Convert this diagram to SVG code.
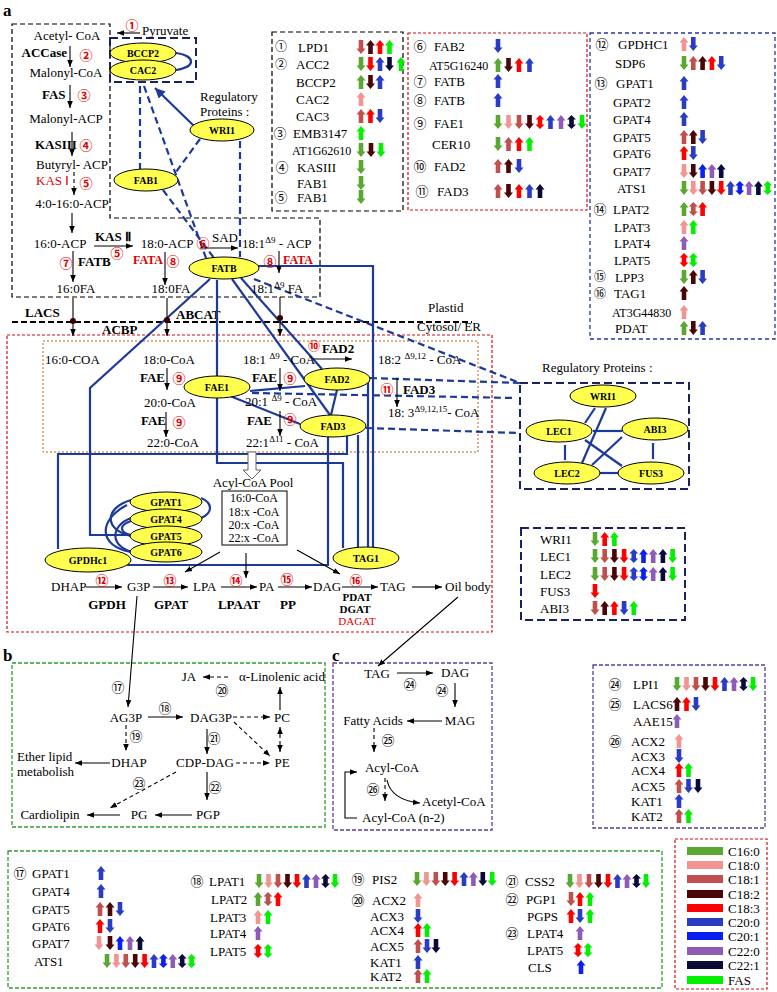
<svg xmlns="http://www.w3.org/2000/svg" xmlns:xlink="http://www.w3.org/1999/xlink" width="777" height="992" viewBox="0 0 777 992">
<style>
.t{font-family:"Liberation Serif","Times New Roman",serif;font-size:13px;fill:#000}
.s{font-size:12px}
.xs{font-size:11px}
.b{font-weight:bold}
.m{text-anchor:middle}
.e{text-anchor:end}
.r{fill:#e00000}
.n{font-family:"Noto Sans CJK SC","DejaVu Sans",sans-serif;font-size:13px;text-anchor:middle;fill:#000}
.ns{font-size:12px}
.nr{fill:#e00000;font-weight:bold}
.pl{font-family:"Liberation Serif","Times New Roman",serif;font-size:17px;font-weight:bold}
.el{fill:#ffff4d;stroke:#000;stroke-width:1}
.et{font-family:"Liberation Serif","Times New Roman",serif;font-size:10px;font-weight:bold;text-anchor:middle}
.bl{stroke:#1b3a9a;stroke-width:2.2;fill:none}
.bd{stroke:#1b3a9a;stroke-width:2.2;fill:none;stroke-dasharray:7 4}
.ar{stroke:#000;stroke-width:1.1;fill:none;marker-end:url(#ah)}
.ad{stroke:#000;stroke-width:1.1;fill:none;marker-end:url(#ah);stroke-dasharray:4 3}
.bxk{fill:none;stroke:#000;stroke-width:1.2;stroke-dasharray:5 3}
.bxr{fill:none;stroke:#d01010;stroke-width:1.2;stroke-dasharray:3 2}
.bxo{fill:none;stroke:#c06010;stroke-width:1;stroke-dasharray:2 2}
.bxb{fill:none;stroke:#2a35a8;stroke-width:1.3;stroke-dasharray:4 3}
.bxn{fill:none;stroke:#1a2060;stroke-width:2;stroke-dasharray:8 4}
.bxg{fill:none;stroke:#2f9a2f;stroke-width:1.3;stroke-dasharray:4 2}
.bxp{fill:none;stroke:#5a3d99;stroke-width:1.3;stroke-dasharray:4 2}
.a1{fill:#5aa831}.a2{fill:#f19592}.a3{fill:#c0504d}.a4{fill:#4a0606}.a5{fill:#ff0000}
.a6{fill:#2a3cc4}.a7{fill:#0b20f0}.a8{fill:#8e5cb5}.a9{fill:#0a0a38}.a10{fill:#00f000}
</style>
<defs>
<marker id="ah" viewBox="0 0 10 10" refX="10" refY="5" markerWidth="7" markerHeight="7" markerUnits="userSpaceOnUse" orient="auto-start-reverse"><path d="M0,1 L10,5 L0,9 z" fill="#000"/></marker>
<marker id="ahb" viewBox="0 0 10 10" refX="10" refY="5" markerWidth="10" markerHeight="10" markerUnits="userSpaceOnUse" orient="auto"><path d="M0,0 L10,5 L0,10 z" fill="#1b3a9a"/></marker>
<path id="u" d="M0,-7 L4.5,-1.5 L2.3,-1.5 L2.3,7 L-2.3,7 L-2.3,-1.5 L-4.5,-1.5 Z"/>
<path id="d" d="M0,7 L4.5,1.5 L2.3,1.5 L2.3,-7 L-2.3,-7 L-2.3,1.5 L-4.5,1.5 Z"/>
<path id="w" d="M0,-7 L4.5,-2.5 L2.3,-2.5 L2.3,2.5 L4.5,2.5 L0,7 L-4.5,2.5 L-2.3,2.5 L-2.3,-2.5 L-4.5,-2.5 Z"/>
</defs>
<rect width="777" height="992" fill="#fff"/>

<!-- panel labels -->
<text class="pl" x="3" y="16">a</text>
<text class="pl" x="3" y="661">b</text>
<text class="pl" x="332" y="661">c</text>

<!-- compartment boxes -->
<g id="compartments">
<path class="bxk" d="M12,24 L110,24 L110,218 L320,218 L320,297 L12,297 Z"/>
<rect class="bxn" x="110" y="38" width="86" height="44"/>
<line x1="12" y1="322" x2="472" y2="322" stroke="#000" stroke-width="2" stroke-dasharray="6 3"/>
<rect class="bxr" x="7" y="335" width="485" height="297"/>
<rect class="bxo" x="43" y="341" width="435" height="111"/>
<rect class="bxn" x="520" y="383" width="169" height="106"/>
<rect class="bxg" x="12" y="663" width="313" height="164"/>
<rect class="bxp" x="333" y="663" width="159" height="167"/>
<text class="t" x="428" y="312">Plastid</text>
<text class="t" x="417" y="331">Cytosol/ ER</text>
<text class="t b" x="25" y="317">LACS</text>
<text class="t b" x="176" y="319">ABCAT</text>
<text class="t b" x="102" y="334">ACBP</text>
<text class="t" x="200" y="101">Regulatory</text>
<text class="t" x="200" y="116">Proteins :</text>
<text class="t" x="542" y="372">Regulatory Proteins :</text>
</g>

<!-- connectors -->
<g id="connectors">
<line class="bl" x1="194" y1="126" x2="155" y2="88" marker-end="url(#ahb)"/>
<line class="bd" x1="140" y1="86" x2="140" y2="169"/>
<line class="bd" x1="144" y1="86" x2="206" y2="258"/>
<line class="bd" x1="200" y1="139" x2="176" y2="172"/>
<line class="bd" x1="163" y1="190" x2="214" y2="258"/>
<line class="bd" x1="240" y1="141" x2="240" y2="257"/>
<line class="bd" x1="254" y1="279" x2="520" y2="383"/>
<line class="bd" x1="370" y1="378" x2="520" y2="383"/>
<line class="bd" x1="252" y1="393" x2="515" y2="398"/>
<line class="bd" x1="366" y1="428" x2="519" y2="433"/>
<polyline class="bl" points="210,279 90,388 90,535 131,535"/>
<line class="bl" x1="217" y1="280" x2="217" y2="376"/>
<polyline class="bl" points="217,398 217,463 343,463 343,548"/>
<line class="bl" x1="232" y1="279" x2="330" y2="415"/>
<line class="bl" x1="241" y1="278" x2="322" y2="369"/>
<polyline class="bl" points="258,266 373,266 373,548"/>
<line class="bl" x1="250" y1="391" x2="305" y2="386"/>
<line class="bl" x1="230" y1="396" x2="300" y2="424"/>
<line class="bl" x1="337" y1="390" x2="331" y2="415"/>
<line class="bl" x1="368" y1="380" x2="368" y2="548"/>
<line class="bl" x1="358" y1="435" x2="358" y2="548"/>
<polyline class="bl" points="347,436 347,454 58,454 58,549"/>
<polyline class="bl" points="328,437 328,565 128,565 128,557"/>
<path class="bl" d="M176,53 C196,56 196,67 176,70"/>
<path class="bl" d="M131,500 C104,508 104,530 131,536"/>
<path class="bl" d="M127,505 C98,520 98,546 131,552"/>
<path class="bl" d="M131,518 C110,526 110,546 132,552"/>
<path class="bl" d="M131,521 C119,525 119,532 131,535"/>
<path class="bl" d="M201,498 C213,503 213,513 201,518"/>
<line class="bl" x1="595" y1="408" x2="585" y2="423"/>
<line class="bl" x1="606" y1="408" x2="582" y2="463"/>
<line class="bl" x1="593" y1="431" x2="622" y2="431"/>
<line class="bl" x1="565" y1="445" x2="565" y2="460"/>
<line class="bl" x1="585" y1="440" x2="622" y2="466"/>
<line class="bl" x1="622" y1="437" x2="592" y2="465"/>
<line class="bl" x1="653" y1="443" x2="653" y2="459"/>
<line class="bl" x1="600" y1="473" x2="618" y2="473"/>
<line class="ar" x1="73" y1="298" x2="73" y2="336"/>
<line class="ar" x1="167" y1="298" x2="167" y2="336"/>
<line class="ar" x1="280" y1="297" x2="280" y2="336"/>
<circle cx="73" cy="321" r="3" fill="#3a0000"/>
<circle cx="167" cy="320" r="3" fill="#3a0000"/>
<circle cx="280" cy="318" r="3" fill="#3a0000"/>
<line class="ar" x1="140" y1="33" x2="117" y2="33"/>
<line class="ar" x1="70" y1="46" x2="70" y2="67"/>
<line class="ar" x1="70" y1="85" x2="70" y2="108"/>
<line class="ar" x1="72" y1="132" x2="72" y2="156"/>
<line class="ad" x1="74" y1="172" x2="74" y2="195"/>
<line class="ar" x1="72" y1="213" x2="72" y2="233"/>
<line class="ar" x1="94" y1="246" x2="133" y2="246"/>
<line class="ar" x1="200" y1="248" x2="238" y2="248"/>
<line class="ar" x1="73" y1="251" x2="73" y2="282"/>
<line class="ar" x1="165" y1="252" x2="165" y2="285"/>
<line class="ar" x1="279" y1="251" x2="279" y2="273"/>
<line class="ar" x1="167" y1="368" x2="167" y2="390"/>
<line class="ar" x1="166" y1="412" x2="166" y2="437"/>
<line class="ar" x1="280" y1="368" x2="280" y2="391"/>
<line class="ar" x1="280" y1="411" x2="280" y2="436"/>
<line class="ar" x1="313" y1="359" x2="352" y2="359"/>
<line class="ar" x1="397" y1="378" x2="397" y2="407"/>
<path d="M248,452 L256,452 L256,470 L261,470 L252,479 L243,470 L248,470 Z" fill="#fff" stroke="#666" stroke-width="1"/>
<line class="ar" x1="220" y1="552" x2="185" y2="572"/>
<line class="ar" x1="246" y1="553" x2="246" y2="578"/>
<line class="ar" x1="297" y1="550" x2="340" y2="574"/>
<line class="ar" x1="86" y1="587" x2="122" y2="587"/>
<line class="ar" x1="153" y1="587" x2="188" y2="587"/>
<line class="ar" x1="221" y1="587" x2="257" y2="587"/>
<line class="ar" x1="278" y1="587" x2="312" y2="587"/>
<line class="ar" x1="342" y1="587" x2="378" y2="587"/>
<line class="ar" x1="412" y1="587" x2="442" y2="587"/>
<line class="ar" x1="137" y1="596" x2="128" y2="707"/>
<line class="ar" x1="148" y1="717" x2="183" y2="717"/>
<line class="ad" x1="233" y1="717" x2="270" y2="717"/>
<line class="ar" x1="280" y1="710" x2="280" y2="687"/>
<line class="ad" x1="228" y1="677" x2="203" y2="677"/>
<line class="ad" x1="280" y1="727" x2="280" y2="752" marker-start="url(#ah)"/>
<line class="ad" x1="126" y1="725" x2="126" y2="751"/>
<line class="ar" x1="110" y1="763" x2="75" y2="763"/>
<line class="ar" x1="207" y1="729" x2="207" y2="754"/>
<line class="ad" x1="234" y1="722" x2="270" y2="756"/>
<line class="ad" x1="236" y1="763" x2="270" y2="763"/>
<line class="ad" x1="176" y1="772" x2="110" y2="808"/>
<line class="ar" x1="207" y1="772" x2="207" y2="800"/>
<line class="ar" x1="192" y1="815" x2="155" y2="815"/>
<line class="ar" x1="120" y1="815" x2="87" y2="815"/>
<line class="ar" x1="458" y1="597" x2="378" y2="666"/>
<line class="ar" x1="397" y1="673" x2="433" y2="673"/>
<line class="ar" x1="455" y1="683" x2="455" y2="707"/>
<line class="ar" x1="442" y1="721" x2="407" y2="721"/>
<line class="ad" x1="374" y1="728" x2="374" y2="752"/>
<line class="ad" x1="385" y1="778" x2="385" y2="801"/>
<path class="ar" d="M387,780 Q391,800 420,803"/>
<polyline class="ar" points="357,818 345,818 345,772 357,772"/>
</g>

<!-- nodes: ellipses -->
<g id="BCCP2"><ellipse class="el" cx="143" cy="53" rx="33" ry="10"/><text class="et" x="143" y="56.5">BCCP2</text></g>
<g id="CAC2"><ellipse class="el" cx="143" cy="70" rx="33" ry="10"/><text class="et" x="143" y="73.5">CAC2</text></g>
<g id="WRI1-a"><ellipse class="el" cx="222" cy="130" rx="32" ry="11"/><text class="et" x="222" y="133.5">WRI1</text></g>
<g id="FAB1"><ellipse class="el" cx="146" cy="180" rx="32" ry="11"/><text class="et" x="146" y="183.5">FAB1</text></g>
<g id="FATB"><ellipse class="el" cx="224" cy="268" rx="35" ry="11"/><text class="et" x="224" y="271.5">FATB</text></g>
<g id="FAE1"><ellipse class="el" cx="217" cy="387" rx="33" ry="11"/><text class="et" x="217" y="390.5">FAE1</text></g>
<g id="FAD2"><ellipse class="el" cx="337" cy="379" rx="33" ry="11"/><text class="et" x="337" y="382.5">FAD2</text></g>
<g id="FAD3"><ellipse class="el" cx="333" cy="426" rx="33" ry="11"/><text class="et" x="333" y="429.5">FAD3</text></g>
<g id="GPAT1"><ellipse class="el" cx="166" cy="502" rx="36" ry="10"/><text class="et" x="166" y="505.5">GPAT1</text></g>
<g id="GPAT4"><ellipse class="el" cx="166" cy="519" rx="36" ry="10"/><text class="et" x="166" y="522.5">GPAT4</text></g>
<g id="GPAT5"><ellipse class="el" cx="166" cy="536" rx="36" ry="10"/><text class="et" x="166" y="539.5">GPAT5</text></g>
<g id="GPAT6"><ellipse class="el" cx="166" cy="552" rx="36" ry="10"/><text class="et" x="166" y="555.5">GPAT6</text></g>
<g id="GPDHc1"><ellipse class="el" cx="88" cy="560" rx="43" ry="12"/><text class="et" x="88" y="563.5">GPDHc1</text></g>
<g id="TAG1"><ellipse class="el" cx="366" cy="558" rx="33" ry="11"/><text class="et" x="366" y="561.5">TAG1</text></g>
<g id="WRI1"><ellipse class="el" cx="603" cy="396" rx="33" ry="11"/><text class="et" x="603" y="399.5">WRI1</text></g>
<g id="LEC1"><ellipse class="el" cx="559" cy="431" rx="33" ry="11"/><text class="et" x="559" y="434.5">LEC1</text></g>
<g id="ABI3"><ellipse class="el" cx="655" cy="429" rx="33" ry="11"/><text class="et" x="655" y="432.5">ABI3</text></g>
<g id="LEC2"><ellipse class="el" cx="567" cy="473" rx="33" ry="11"/><text class="et" x="567" y="476.5">LEC2</text></g>
<g id="FUS3"><ellipse class="el" cx="651" cy="473" rx="33" ry="11"/><text class="et" x="651" y="476.5">FUS3</text></g>

<!-- plastid metabolites -->
<g id="plastid-text">
<text class="t" x="142" y="35">Pyruvate</text>
<text class="t m" x="67" y="40">Acetyl- CoA</text>
<text class="t m" x="66" y="77">Malonyl-CoA</text>
<text class="t m" x="66" y="123">Malonyl-ACP</text>
<text class="t m" x="72" y="169">Butyryl- ACP</text>
<text class="t m" x="72" y="208">4:0-16:0-ACP</text>
<text class="t m" x="60" y="248">16:0-ACP</text>
<text class="t m" x="167" y="248">18:0-ACP</text>
<text class="t" x="242" y="248">18:1<tspan font-size="9" dy="-5">Δ9</tspan><tspan dy="5"> - ACP</tspan></text>
<text class="t m" x="76" y="293">16:0FA</text>
<text class="t m" x="171" y="293">18:0FA</text>
<text class="t" x="251" y="293">18:1<tspan font-size="9" dy="-5">Δ9</tspan><tspan dy="5"> FA</tspan></text>
<text class="t b e" x="67" y="57">ACCase</text>
<text class="t b" x="42" y="99">FAS</text>
<text class="t b" x="35" y="149">KASIII</text>
<text class="t r" x="36" y="185">KAS Ⅰ</text>
<text class="t b" x="95" y="241">KAS Ⅱ</text>
<text class="t b" x="78" y="266">FATB</text>
<text class="t b r s" x="133" y="264">FATA</text>
<text class="t" x="212" y="242">SAD</text>
<text class="t b r s" x="283" y="264">FATA</text>
<text class="n nr" x="132" y="30">①</text>
<text class="n nr" x="86" y="60">②</text>
<text class="n nr" x="84" y="100">③</text>
<text class="n nr" x="86" y="150">④</text>
<text class="n nr" x="86" y="188">⑤</text>
<text class="n nr" x="117" y="258">⑤</text>
<text class="n nr" x="66" y="268">⑦</text>
<text class="n nr" x="173" y="266">⑧</text>
<text class="n nr" x="203" y="248">⑥</text>
<text class="n nr" x="270" y="266">⑧</text>
</g>

<!-- ER metabolites -->
<g id="er-text">
<text class="t" x="45" y="364">16:0-COA</text>
<text class="t" x="143" y="364">18:0-CoA</text>
<text class="t b" x="140" y="382">FAE</text>
<text class="t" x="144" y="407">20:0-CoA</text>
<text class="t b" x="141" y="425">FAE</text>
<text class="t" x="147" y="447">22:0-CoA</text>
<text class="t" x="243" y="364">18:1 <tspan font-size="9" dy="-5">Δ9</tspan><tspan dy="5"> - CoA</tspan></text>
<text class="t b" x="252" y="382">FAE</text>
<text class="t" x="245" y="406">20:1 <tspan font-size="9" dy="-5">Δ9</tspan><tspan dy="5"> - CoA</tspan></text>
<text class="t b" x="247" y="425">FAE</text>
<text class="t" x="246" y="447">22:1<tspan font-size="9" dy="-5">Δ11</tspan><tspan dy="5"> - CoA</tspan></text>
<text class="t b" x="322" y="353">FAD2</text>
<text class="t" x="378" y="364">18:2 <tspan font-size="9" dy="-5">Δ9,12</tspan><tspan dy="5"> - CoA</tspan></text>
<text class="t b" x="403" y="394">FAD3</text>
<text class="t" x="388" y="417">18: 3<tspan font-size="9" dy="-5">Δ9,12,15</tspan><tspan dy="5">- CoA</tspan></text>
<text class="n nr" x="179" y="383">⑨</text>
<text class="n nr" x="179" y="427">⑨</text>
<text class="n nr" x="290" y="383">⑨</text>
<text class="n nr" x="290" y="424">⑨</text>
<text class="n nr ns" x="314" y="351">⑩</text>
<text class="n nr" x="387" y="394">⑪</text>
<text class="t m" x="253" y="487">Acyl-CoA Pool</text>
<rect x="222" y="491" width="65" height="54" fill="none" stroke="#000" stroke-width="1"/>
<text class="t m s" x="254" y="502">16:0-CoA</text>
<text class="t m s" x="254" y="516">18:x -CoA</text>
<text class="t m s" x="254" y="529">20:x -CoA</text>
<text class="t m s" x="254" y="542">22:x -CoA</text>
<text class="t" x="51" y="591">DHAP</text>
<text class="t" x="127" y="591">G3P</text>
<text class="t" x="193" y="591">LPA</text>
<text class="t" x="259" y="591">PA</text>
<text class="t" x="313" y="591">DAG</text>
<text class="t" x="380" y="591">TAG</text>
<text class="t" x="445" y="591">Oil body</text>
<text class="n nr" x="102" y="585">⑫</text>
<text class="n nr" x="170" y="585">⑬</text>
<text class="n nr" x="236" y="585">⑭</text>
<text class="n nr" x="287" y="584">⑮</text>
<text class="n nr" x="356" y="585">⑯</text>
<text class="t b m" x="107" y="609">GPDH</text>
<text class="t b m" x="171" y="609">GPAT</text>
<text class="t b m" x="239" y="609">LPAAT</text>
<text class="t b m" x="288" y="609">PP</text>
<text class="t b m xs" x="357" y="601">PDAT</text>
<text class="t b m xs" x="355" y="613">DGAT</text>
<text class="t r m xs" x="357" y="625">DAGAT</text>
</g>

<!-- panel b -->
<g id="panel-b">
<text class="n" x="118" y="692">⑰</text>
<text class="t m" x="126" y="722">AG3P</text>
<text class="n" x="165" y="713">⑱</text>
<text class="t m" x="211" y="722">DAG3P</text>
<text class="t m" x="282" y="722">PC</text>
<text class="t m" x="282" y="681">α-Linolenic acid</text>
<text class="t m" x="189" y="681">JA</text>
<text class="n" x="222" y="695">⑳</text>
<text class="n" x="136" y="741">⑲</text>
<text class="t m" x="129" y="767">DHAP</text>
<text class="t" x="17" y="761">Ether lipid</text>
<text class="t" x="17" y="776">metabolish</text>
<text class="n" x="214" y="743">㉑</text>
<text class="t m" x="205" y="767">CDP-DAG</text>
<text class="t m" x="282" y="767">PE</text>
<text class="n" x="139" y="788">㉓</text>
<text class="n" x="215" y="792">㉒</text>
<text class="t m" x="208" y="819">PGP</text>
<text class="t m" x="139" y="819">PG</text>
<text class="t m" x="50" y="819">Cardiolipin</text>
</g>

<!-- panel c -->
<g id="panel-c">
<text class="t m" x="377" y="678">TAG</text>
<text class="n" x="410" y="689">㉔</text>
<text class="t m" x="455" y="677">DAG</text>
<text class="n" x="442" y="695">㉔</text>
<text class="t m" x="460" y="725">MAG</text>
<text class="t m" x="373" y="725">Fatty Acids</text>
<text class="n" x="388" y="745">㉕</text>
<text class="t m" x="392" y="772">Acyl-CoA</text>
<text class="n" x="373" y="794">㉖</text>
<text class="t" x="422" y="806">Acetyl-CoA</text>
<text class="t" x="362" y="822">Acyl-CoA (n-2)</text>
</g>

<!-- table 1 -->
<g id="table-1">
<rect class="bxk" x="272" y="32" width="131" height="179"/>
<text class="n ns" x="281" y="51">①</text><text class="t" x="298" y="51.5">LPD1</text>
<text class="n ns" x="281" y="69">②</text><text class="t" x="296" y="68.5">ACC2</text>
<text class="t" x="296" y="86.5">BCCP2</text>
<text class="t" x="296" y="103.5">CAC2</text>
<text class="t" x="296" y="120.5">CAC3</text>
<text class="n" x="280" y="138">③</text><text class="t" x="293" y="137.5">EMB3147</text>
<text class="t s" x="292" y="154.5">AT1G62610</text>
<text class="n" x="282" y="172">④</text><text class="t" x="297" y="171.5">KASIII</text>
<text class="t" x="297" y="187.5">FAB1</text>
<text class="n" x="281" y="202">⑤</text><text class="t" x="297" y="201.5">FAB1</text>
<use href="#d" x="361" y="47" class="a3"/><use href="#u" x="370.5" y="47" class="a4"/><use href="#u" x="380" y="47" class="a5"/><use href="#u" x="389.5" y="47" class="a10"/>
<use href="#d" x="361" y="64" class="a1"/><use href="#d" x="370.5" y="64" class="a5"/><use href="#u" x="380" y="64" class="a6"/><use href="#d" x="389.5" y="64" class="a9"/><use href="#u" x="401" y="64" class="a10"/>
<use href="#u" x="361" y="82" class="a1"/><use href="#d" x="370.5" y="82" class="a4"/><use href="#u" x="380" y="82" class="a6"/>
<use href="#u" x="361" y="99" class="a2"/>
<use href="#u" x="361" y="116" class="a3"/><use href="#u" x="370.5" y="116" class="a5"/><use href="#d" x="380" y="116" class="a6"/>
<use href="#u" x="361" y="133" class="a10"/>
<use href="#d" x="361" y="150" class="a1"/><use href="#d" x="371" y="150" class="a4"/><use href="#d" x="381" y="150" class="a10"/>
<use href="#d" x="361" y="167" class="a1"/>
<use href="#d" x="361" y="183" class="a1"/>
<use href="#d" x="361" y="197" class="a1"/>
</g>

<!-- table 2 -->
<g id="table-2">
<rect class="bxr" x="408" y="33" width="179" height="177"/>
<text class="n" x="420" y="51">⑥</text><text class="t" x="434" y="50.5">FAB2</text>
<text class="t s" x="429" y="69.5">AT5G16240</text>
<text class="n" x="420" y="86">⑦</text><text class="t" x="434" y="85.5">FATB</text>
<text class="n" x="420" y="105">⑧</text><text class="t" x="434" y="104.5">FATB</text>
<text class="n" x="420" y="128">⑨</text><text class="t" x="434" y="127.5">FAE1</text>
<text class="t" x="432" y="148.5">CER10</text>
<text class="n" x="420" y="171">⑩</text><text class="t" x="434" y="170.5">FAD2</text>
<text class="n" x="422" y="196">⑪</text><text class="t" x="437" y="195.5">FAD3</text>
<use href="#d" x="498" y="46" class="a6"/>
<use href="#u" x="498" y="65" class="a1"/><use href="#d" x="508.5" y="65" class="a4"/><use href="#u" x="519" y="65" class="a5"/><use href="#u" x="529.5" y="65" class="a6"/>
<use href="#u" x="498" y="81" class="a6"/>
<use href="#u" x="498" y="100" class="a6"/>
<use href="#d" x="498" y="122" class="a1"/><use href="#d" x="508.5" y="122" class="a2"/><use href="#d" x="519" y="122" class="a3"/><use href="#d" x="529.5" y="122" class="a4"/><use href="#w" x="540" y="122" class="a5"/><use href="#u" x="550.5" y="122" class="a6"/><use href="#u" x="561" y="122" class="a8"/><use href="#w" x="571.5" y="122" class="a9"/><use href="#d" x="582" y="122" class="a10"/>
<use href="#d" x="498" y="144" class="a1"/><use href="#u" x="508.5" y="144" class="a3"/><use href="#u" x="519" y="144" class="a5"/><use href="#u" x="529.5" y="144" class="a10"/>
<use href="#u" x="498" y="166" class="a3"/><use href="#u" x="508.5" y="166" class="a4"/><use href="#d" x="519" y="166" class="a6"/>
<use href="#u" x="498" y="191" class="a3"/><use href="#d" x="508.5" y="191" class="a4"/><use href="#u" x="519" y="191" class="a5"/><use href="#u" x="529.5" y="191" class="a6"/><use href="#u" x="540" y="191" class="a9"/>
</g>

<!-- table 3 -->
<g id="table-3">
<rect class="bxb" x="590" y="33" width="185" height="306"/>
<text class="n" x="602" y="49">⑫</text><text class="t" x="618" y="48.5">GPDHC1</text>
<text class="t" x="615" y="67.5">SDP6</text>
<text class="n" x="601" y="88">⑬</text><text class="t" x="616" y="87.5">GPAT1</text>
<text class="t" x="613" y="106.5">GPAT2</text>
<text class="t" x="613" y="123.5">GPAT4</text>
<text class="t" x="613" y="141.5">GPAT5</text>
<text class="t" x="613" y="157.5">GPAT6</text>
<text class="t" x="613" y="175.5">GPAT7</text>
<text class="t" x="617" y="192.5">ATS1</text>
<text class="n" x="600" y="214">⑭</text><text class="t" x="613" y="213.5">LPAT2</text>
<text class="t" x="614" y="231.5">LPAT3</text>
<text class="t" x="614" y="247.5">LPAT4</text>
<text class="t" x="614" y="264.5">LPAT5</text>
<text class="n ns" x="600" y="281">⑮</text><text class="t" x="615" y="281.5">LPP3</text>
<text class="n ns" x="600" y="298">⑯</text><text class="t" x="614" y="297.5">TAG1</text>
<text class="t s" x="612" y="316.5">AT3G44830</text>
<text class="t" x="615" y="332.5">PDAT</text>
<use href="#u" x="684" y="44" class="a2"/><use href="#d" x="693.3" y="44" class="a6"/>
<use href="#d" x="684" y="63" class="a1"/><use href="#u" x="693.3" y="63" class="a3"/><use href="#u" x="702.6" y="63" class="a4"/><use href="#u" x="711.9" y="63" class="a5"/><use href="#d" x="721.2" y="63" class="a6"/>
<use href="#u" x="684" y="83" class="a6"/>
<use href="#u" x="684" y="102" class="a6"/>
<use href="#u" x="684" y="119" class="a6"/>
<use href="#u" x="684" y="137" class="a3"/><use href="#u" x="693.3" y="137" class="a4"/><use href="#d" x="702.6" y="137" class="a6"/>
<use href="#u" x="684" y="153" class="a5"/><use href="#d" x="693.3" y="153" class="a6"/>
<use href="#d" x="684" y="171" class="a2"/><use href="#d" x="693.3" y="171" class="a4"/><use href="#u" x="702.6" y="171" class="a7"/><use href="#u" x="711.9" y="171" class="a8"/><use href="#u" x="721.2" y="171" class="a9"/>
<use href="#d" x="684" y="188" class="a1"/><use href="#d" x="693.3" y="188" class="a2"/><use href="#d" x="702.6" y="188" class="a3"/><use href="#d" x="711.9" y="188" class="a4"/><use href="#d" x="721.2" y="188" class="a5"/><use href="#u" x="730.5" y="188" class="a6"/><use href="#w" x="739.8" y="188" class="a7"/><use href="#u" x="749.1" y="188" class="a8"/><use href="#u" x="758.4" y="188" class="a9"/><use href="#w" x="767.7" y="188" class="a10"/>
<use href="#u" x="684" y="209" class="a1"/><use href="#w" x="693.3" y="209" class="a3"/><use href="#u" x="702.6" y="209" class="a5"/>
<use href="#u" x="684" y="227" class="a2"/><use href="#u" x="693.3" y="227" class="a10"/>
<use href="#u" x="684" y="243" class="a8"/>
<use href="#w" x="684" y="260" class="a5"/><use href="#w" x="693.3" y="260" class="a10"/>
<use href="#d" x="684" y="277" class="a1"/><use href="#u" x="693.3" y="277" class="a4"/><use href="#d" x="702.6" y="277" class="a6"/>
<use href="#u" x="684" y="293" class="a4"/>
<use href="#u" x="684" y="312" class="a2"/>
<use href="#u" x="684" y="328" class="a1"/><use href="#d" x="693.3" y="328" class="a4"/><use href="#u" x="702.6" y="328" class="a6"/>
</g>

<!-- regulatory table -->
<g id="table-reg">
<rect class="bxn" x="521" y="528" width="164" height="92"/>
<text class="t" x="540" y="543.5">WRI1</text>
<text class="t" x="540" y="560.5">LEC1</text>
<text class="t" x="540" y="578.5">LEC2</text>
<text class="t" x="540" y="595.5">FUS3</text>
<text class="t" x="540" y="612.5">ABI3</text>
<use href="#d" x="595" y="539" class="a1"/><use href="#u" x="604.7" y="539" class="a5"/><use href="#u" x="614.4" y="539" class="a10"/>
<use href="#d" x="595" y="556" class="a1"/><use href="#d" x="604.7" y="556" class="a3"/><use href="#d" x="614.4" y="556" class="a4"/><use href="#d" x="624.1" y="556" class="a5"/><use href="#w" x="633.8" y="556" class="a6"/><use href="#u" x="643.5" y="556" class="a7"/><use href="#u" x="653.2" y="556" class="a8"/><use href="#u" x="662.9" y="556" class="a9"/><use href="#d" x="672.6" y="556" class="a10"/>
<use href="#d" x="595" y="574" class="a1"/><use href="#d" x="604.7" y="574" class="a3"/><use href="#d" x="614.4" y="574" class="a4"/><use href="#d" x="624.1" y="574" class="a5"/><use href="#w" x="633.8" y="574" class="a6"/><use href="#w" x="643.5" y="574" class="a7"/><use href="#u" x="653.2" y="574" class="a8"/><use href="#u" x="662.9" y="574" class="a9"/><use href="#d" x="672.6" y="574" class="a10"/>
<use href="#d" x="595" y="591" class="a5"/>
<use href="#d" x="595" y="608" class="a3"/><use href="#u" x="604.7" y="608" class="a4"/><use href="#u" x="614.4" y="608" class="a5"/><use href="#d" x="624.1" y="608" class="a6"/><use href="#u" x="633.8" y="608" class="a10"/>
</g>

<!-- table 24-26 -->
<g id="table-4">
<rect class="bxp" x="593" y="665" width="172" height="163"/>
<text class="n" x="615" y="689">㉔</text><text class="t" x="633" y="688.5">LPI1</text>
<text class="n" x="615" y="709">㉕</text><text class="t" x="633" y="708.5">LACS6</text>
<text class="t" x="633" y="725.5">AAE15</text>
<text class="n" x="615" y="746">㉖</text><text class="t" x="631" y="745.5">ACX2</text>
<text class="t" x="631" y="760.5">ACX3</text>
<text class="t" x="631" y="774.5">ACX4</text>
<text class="t" x="631" y="790.5">ACX5</text>
<text class="t" x="631" y="805.5">KAT1</text>
<text class="t" x="631" y="820.5">KAT2</text>
<use href="#d" x="677" y="684" class="a1"/><use href="#d" x="686.5" y="684" class="a2"/><use href="#d" x="696" y="684" class="a3"/><use href="#d" x="705.5" y="684" class="a4"/><use href="#d" x="715" y="684" class="a5"/><use href="#u" x="724.5" y="684" class="a6"/><use href="#u" x="734" y="684" class="a8"/><use href="#w" x="743.5" y="684" class="a9"/><use href="#d" x="753" y="684" class="a10"/>
<use href="#u" x="677" y="704" class="a4"/><use href="#u" x="686.5" y="704" class="a5"/><use href="#d" x="696" y="704" class="a6"/>
<use href="#u" x="677" y="721" class="a8"/>
<use href="#u" x="679" y="741" class="a2"/>
<use href="#d" x="679" y="756" class="a6"/>
<use href="#u" x="679" y="770" class="a5"/><use href="#u" x="688.5" y="770" class="a10"/>
<use href="#u" x="679" y="786" class="a3"/><use href="#d" x="688.5" y="786" class="a6"/><use href="#d" x="698" y="786" class="a9"/>
<use href="#u" x="679" y="801" class="a6"/>
<use href="#u" x="679" y="816" class="a3"/><use href="#u" x="688.5" y="816" class="a10"/>
</g>

<!-- bottom table -->
<g id="table-5">
<rect class="bxg" x="8" y="851" width="654" height="137"/>
<text class="n" x="20" y="878">⑰</text><text class="t" x="32" y="877.5">GPAT1</text>
<text class="t" x="32" y="895.5">GPAT4</text>
<text class="t" x="32" y="913.5">GPAT5</text>
<text class="t" x="32" y="930.5">GPAT6</text>
<text class="t" x="32" y="947.5">GPAT7</text>
<text class="t" x="34" y="965.5">ATS1</text>
<use href="#u" x="101" y="873" class="a6"/>
<use href="#u" x="101" y="891" class="a6"/>
<use href="#u" x="100" y="909" class="a3"/><use href="#u" x="110" y="909" class="a4"/><use href="#d" x="120" y="909" class="a6"/>
<use href="#u" x="100" y="926" class="a5"/><use href="#d" x="110" y="926" class="a6"/>
<use href="#d" x="99" y="943" class="a2"/><use href="#d" x="110" y="943" class="a4"/><use href="#u" x="120" y="943" class="a7"/><use href="#u" x="130" y="943" class="a8"/><use href="#u" x="140" y="943" class="a9"/>
<use href="#d" x="107" y="961" class="a1"/><use href="#d" x="116.4" y="961" class="a2"/><use href="#d" x="125.8" y="961" class="a3"/><use href="#d" x="135.2" y="961" class="a4"/><use href="#d" x="144.6" y="961" class="a5"/><use href="#u" x="154" y="961" class="a6"/><use href="#w" x="163.4" y="961" class="a7"/><use href="#u" x="172.8" y="961" class="a8"/><use href="#w" x="182.2" y="961" class="a9"/><use href="#w" x="191.6" y="961" class="a10"/>

<text class="n" x="197" y="886">⑱</text><text class="t" x="209" y="885.5">LPAT1</text>
<text class="t" x="211" y="903.5">LPAT2</text>
<text class="t" x="210" y="921.5">LPAT3</text>
<text class="t" x="210" y="937.5">LPAT4</text>
<text class="t" x="210" y="955.5">LPAT5</text>
<use href="#d" x="259" y="881" class="a1"/><use href="#d" x="268.5" y="881" class="a2"/><use href="#d" x="278" y="881" class="a3"/><use href="#d" x="287.5" y="881" class="a4"/><use href="#d" x="297" y="881" class="a5"/><use href="#u" x="306.5" y="881" class="a6"/><use href="#u" x="316" y="881" class="a8"/><use href="#w" x="325.5" y="881" class="a9"/><use href="#d" x="335" y="881" class="a10"/>
<use href="#u" x="258" y="899" class="a1"/><use href="#w" x="268" y="899" class="a3"/><use href="#u" x="278" y="899" class="a5"/>
<use href="#u" x="258" y="917" class="a2"/><use href="#u" x="268" y="917" class="a10"/>
<use href="#u" x="258" y="933" class="a8"/>
<use href="#w" x="258" y="951" class="a5"/><use href="#w" x="268" y="951" class="a10"/>

<text class="n" x="358" y="884">⑲</text><text class="t" x="372" y="883.5">PIS2</text>
<text class="n" x="358" y="905">⑳</text><text class="t" x="372" y="904.5">ACX2</text>
<text class="t" x="370" y="920.5">ACX3</text>
<text class="t" x="370" y="934.5">ACX4</text>
<text class="t" x="370" y="950.5">ACX5</text>
<text class="t" x="370" y="966.5">KAT1</text>
<text class="t" x="370" y="980.5">KAT2</text>
<use href="#d" x="417" y="879" class="a1"/><use href="#d" x="426.4" y="879" class="a2"/><use href="#d" x="435.8" y="879" class="a3"/><use href="#d" x="445.2" y="879" class="a4"/><use href="#d" x="454.6" y="879" class="a5"/><use href="#u" x="464" y="879" class="a6"/><use href="#u" x="473.4" y="879" class="a8"/><use href="#d" x="482.8" y="879" class="a9"/><use href="#d" x="492.2" y="879" class="a10"/>
<use href="#u" x="418" y="900" class="a2"/>
<use href="#d" x="418" y="916" class="a6"/>
<use href="#u" x="418" y="930" class="a5"/><use href="#u" x="427" y="930" class="a10"/>
<use href="#u" x="418" y="946" class="a3"/><use href="#d" x="427" y="946" class="a6"/><use href="#d" x="436" y="946" class="a9"/>
<use href="#u" x="418" y="962" class="a6"/>
<use href="#u" x="418" y="976" class="a3"/><use href="#u" x="427" y="976" class="a10"/>

<text class="n" x="512" y="886">㉑</text><text class="t" x="525" y="885.5">CSS2</text>
<text class="n" x="512" y="904">㉒</text><text class="t" x="526" y="903.5">PGP1</text>
<text class="t" x="527" y="920.5">PGPS</text>
<text class="n" x="512" y="938">㉓</text><text class="t" x="527" y="937.5">LPAT4</text>
<text class="t" x="527" y="954.5">LPAT5</text>
<text class="t" x="528" y="971.5">CLS</text>
<use href="#d" x="570" y="881" class="a1"/><use href="#d" x="579.5" y="881" class="a2"/><use href="#d" x="589" y="881" class="a3"/><use href="#d" x="598.5" y="881" class="a4"/><use href="#d" x="608" y="881" class="a5"/><use href="#u" x="617.5" y="881" class="a6"/><use href="#u" x="627" y="881" class="a8"/><use href="#w" x="636.5" y="881" class="a9"/><use href="#d" x="646" y="881" class="a10"/>
<use href="#d" x="571" y="899" class="a3"/><use href="#u" x="580" y="899" class="a5"/><use href="#u" x="590" y="899" class="a10"/>
<use href="#u" x="571" y="916" class="a5"/><use href="#d" x="580" y="916" class="a6"/><use href="#u" x="590" y="916" class="a10"/>
<use href="#u" x="580" y="933" class="a8"/>
<use href="#w" x="578" y="950" class="a5"/><use href="#w" x="588" y="950" class="a10"/>
<use href="#u" x="581" y="967" class="a7"/>
</g>

<!-- legend -->
<g id="legend">
<rect class="bxr" x="675" y="839" width="92" height="150"/>
<rect x="687" y="847" width="36" height="8" class="a1"/><text class="t" x="728" y="855.5">C16:0</text>
<rect x="687" y="861" width="36" height="8" class="a2"/><text class="t" x="728" y="869.5">C18:0</text>
<rect x="687" y="875" width="36" height="8" class="a3"/><text class="t" x="728" y="883.5">C18:1</text>
<rect x="687" y="890" width="36" height="8" class="a4"/><text class="t" x="728" y="898.5">C18:2</text>
<rect x="687" y="904" width="36" height="8" class="a5"/><text class="t" x="728" y="912.5">C18:3</text>
<rect x="687" y="918" width="36" height="8" class="a6"/><text class="t" x="728" y="926.5">C20:0</text>
<rect x="687" y="932" width="36" height="8" class="a7"/><text class="t" x="728" y="940.5">C20:1</text>
<rect x="687" y="947" width="36" height="8" class="a8"/><text class="t" x="728" y="955.5">C22:0</text>
<rect x="687" y="961" width="36" height="8" class="a9"/><text class="t" x="728" y="969.5">C22:1</text>
<rect x="687" y="976" width="36" height="8" class="a10"/><text class="t" x="728" y="984.5">FAS</text>
</g>
</svg>
